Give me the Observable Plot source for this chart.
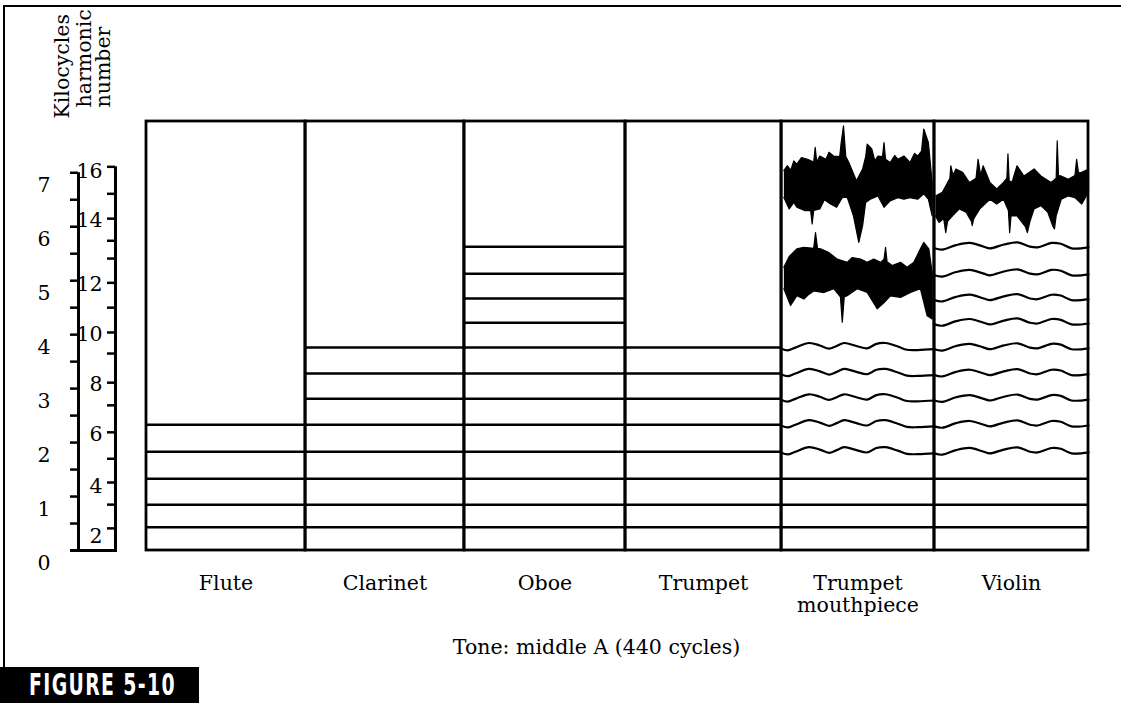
<!DOCTYPE html>
<html><head><meta charset="utf-8">
<script src="https://cdn.jsdelivr.net/npm/d3@7"></script>
<script src="https://cdn.jsdelivr.net/npm/@observablehq/plot@0.6"></script>
<style>
html,body{margin:0;padding:0;background:#fff;}
#fig{position:relative;width:1121px;height:703px;overflow:hidden;background:#fff;}
#frame{position:absolute;left:3px;top:5px;width:1130px;height:660px;border-top:2px solid #000;border-left:2px solid #000;}
#chart{position:absolute;left:0;top:0;}
#badge{position:absolute;left:0;top:667px;}
</style></head><body>
<div id="fig">
  <div id="frame"></div>
  <div id="chart"></div>
  <svg id="badge" width="199" height="36"><rect width="199" height="36" fill="#000"/>
    <text id="badgeText" x="0" y="0" fill="#fff" font-family="DejaVu Sans Condensed, DejaVu Sans" font-weight="bold" font-size="31" letter-spacing="2">FIGURE 5-10</text>
  </svg>
</div>
<script>
// ---------- data (kilocycles on the vertical axis) ----------
const instruments = ["Flute", "Clarinet", "Oboe", "Trumpet", "Trumpet\nmouthpiece", "Violin"];
const panelEdges = [0, 1.013, 2.025, 3.051, 4.045, 5.019, 6];
const panelTopKc = 7.95;

const kcTicks = [0, 0.5, 1, 1.5, 2, 2.5, 3, 3.5, 4, 4.5, 5, 5.5, 6, 6.5, 7];
const kcLabels = [0, 1, 2, 3, 4, 5, 6, 7];
const harmonicTickKc = [0.41, 0.85, 1.26, 1.70, 2.19, 2.69, 3.11, 3.65, 4.04, 4.50, 4.96, 5.41, 5.74, 6.15, 6.61, 7.11];
const harmonicLabelNums = [2, 4, 6, 8, 10, 12, 14, 16];
const harmonicLabelKc = [0.30, 1.22, 2.19, 3.11, 4.04, 4.96, 6.15, 7.07];

const fluteLines = [0.43, 0.85, 1.33, 1.83, 2.33];
const clarinetLines = [0.43, 0.85, 1.33, 1.83, 2.33, 2.81, 3.28, 3.76];
const oboeLines = [0.43, 0.85, 1.33, 1.83, 2.33, 2.81, 3.28, 3.76, 4.22, 4.67, 5.13, 5.63];
const trumpetLines = [0.43, 0.85, 1.33, 1.83, 2.33, 2.81, 3.28, 3.76];
const mouthpieceStraight = [0.43, 0.85, 1.33];
const mouthpieceWavy = [1.83, 2.33, 2.81, 3.28, 3.76];
const violinStraight = [0.43, 0.85, 1.33];
const violinWavy = [1.83, 2.33, 2.81, 3.28, 3.76, 4.22, 4.67, 5.13, 5.63];

// wave shape: fraction across panel, deviation in kc
const mouthWaveF = [0, 0.04, 0.09, 0.18, 0.25, 0.31, 0.36, 0.41, 0.49, 0.56, 0.62, 0.68, 0.76, 0.82, 0.89, 1.0];
const mouthWaveKc = [-0.02, -0.05, 0, 0.085, 0.04, -0.02, 0.03, 0.085, 0.03, -0.013, 0.07, 0.085, 0.02, -0.04, -0.045, -0.03];
const violinWaveF = [0, 0.05, 0.14, 0.23, 0.32, 0.36, 0.45, 0.54, 0.62, 0.67, 0.76, 0.82, 0.89, 1.0];
const violinWaveKc = [-0.03, -0.055, 0.03, 0.07, 0, -0.03, 0.04, 0.08, 0, -0.013, 0.07, 0.055, -0.03, -0.013];

// noisy bands: [fraction across panel, kc]
const mouthUpperTop = [[0.015,7.04],[0.037,7.13],[0.06,7.05],[0.08,7.22],[0.10,7.16],[0.13,7.28],[0.17,7.25],[0.21,7.2],[0.22,7.47],[0.23,7.2],[0.25,7.31],[0.29,7.25],[0.31,7.38],[0.34,7.31],[0.38,7.3],[0.39,7.56],[0.405,7.87],[0.42,7.3],[0.44,7.19],[0.49,6.85],[0.53,7.07],[0.55,7.3],[0.56,7.53],[0.59,7.44],[0.61,7.22],[0.63,7.31],[0.66,7.3],[0.67,7.56],[0.68,7.25],[0.71,7.19],[0.74,7.32],[0.76,7.25],[0.80,7.31],[0.84,7.19],[0.87,7.36],[0.89,7.31],[0.915,7.4],[0.93,7.81],[0.96,7.56],[0.985,6.82]];
const mouthUpperBottom = [[0.015,6.54],[0.05,6.33],[0.08,6.45],[0.10,6.36],[0.15,6.30],[0.19,6.3],[0.20,6.05],[0.21,6.3],[0.25,6.33],[0.28,6.5],[0.32,6.42],[0.36,6.36],[0.40,6.55],[0.43,6.54],[0.47,6.20],[0.505,5.71],[0.53,6.02],[0.55,6.45],[0.58,6.51],[0.63,6.57],[0.67,6.36],[0.71,6.48],[0.76,6.54],[0.80,6.51],[0.84,6.54],[0.89,6.51],[0.93,6.61],[0.96,6.51],[0.985,6.20]];
const mouthLowerTop = [[0.015,5.25],[0.05,5.45],[0.10,5.59],[0.146,5.62],[0.21,5.6],[0.222,5.89],[0.235,5.6],[0.255,5.59],[0.31,5.52],[0.364,5.40],[0.429,5.34],[0.462,5.43],[0.516,5.40],[0.56,5.34],[0.603,5.40],[0.647,5.34],[0.67,5.4],[0.68,5.62],[0.69,5.35],[0.723,5.28],[0.778,5.34],[0.821,5.25],[0.865,5.34],[0.908,5.59],[0.93,5.71],[0.963,5.59],[0.985,5.15]];
const mouthLowerBottom = [[0.015,4.85],[0.059,4.54],[0.10,4.72],[0.146,4.66],[0.18,4.75],[0.21,4.81],[0.277,4.78],[0.342,4.85],[0.385,4.7],[0.397,4.23],[0.41,4.7],[0.429,4.72],[0.495,4.85],[0.56,4.78],[0.625,4.48],[0.669,4.59],[0.712,4.72],[0.778,4.69],[0.843,4.78],[0.908,4.85],[0.952,4.35],[0.985,4.29]];
const violinNoiseTop = [[0.007,6.57],[0.051,6.64],[0.10,6.9],[0.106,7.13],[0.12,6.95],[0.139,7.07],[0.183,7.01],[0.227,6.82],[0.27,6.9],[0.283,7.25],[0.30,6.95],[0.316,7.13],[0.36,6.82],[0.404,6.70],[0.448,6.82],[0.47,6.9],[0.477,7.35],[0.485,6.85],[0.503,6.82],[0.536,7.13],[0.581,6.94],[0.647,7.07],[0.691,6.94],[0.757,6.82],[0.79,6.9],[0.797,7.59],[0.805,6.95],[0.823,6.94],[0.868,6.88],[0.912,6.95],[0.923,7.25],[0.935,7.0],[0.956,7.01],[1.0,7.07]];
const violinNoiseBottom = [[0.007,6.20],[0.029,6.08],[0.06,6.15],[0.073,5.89],[0.085,6.1],[0.117,6.20],[0.161,6.33],[0.205,6.27],[0.24,6.1],[0.245,6.02],[0.255,6.15],[0.294,6.33],[0.36,6.51],[0.404,6.42],[0.448,6.51],[0.48,6.3],[0.488,5.89],[0.497,6.2],[0.536,6.20],[0.59,6.0],[0.603,5.89],[0.62,6.1],[0.647,6.33],[0.691,6.39],[0.735,6.27],[0.77,6.0],[0.779,5.96],[0.79,6.2],[0.823,6.51],[0.868,6.57],[0.912,6.54],[0.956,6.42],[1.0,6.64]];

const caption = "Tone: middle A (440 cycles)";

// ---------- derived tables ----------
const xOf = (i, f) => panelEdges[i] + f * (panelEdges[i + 1] - panelEdges[i]);
const panels = instruments.map((name, i) => ({name, x1: panelEdges[i], x2: panelEdges[i + 1], xc: (panelEdges[i] + panelEdges[i + 1]) / 2}));

const straightSegs = [];
[[0, fluteLines], [1, clarinetLines], [2, oboeLines], [3, trumpetLines], [4, mouthpieceStraight], [5, violinStraight]]
  .forEach(([i, arr]) => arr.forEach(kc => straightSegs.push({x1: panelEdges[i], x2: panelEdges[i + 1], kc})));

const wavyPts = [];
function addWaves(i, baselines, fs, offs, tag) {
  baselines.forEach((b, j) => fs.forEach((f, k) => wavyPts.push({x: xOf(i, f), y: b + offs[k], id: tag + j})));
}
addWaves(4, mouthpieceWavy, mouthWaveF, mouthWaveKc, "m");
addWaves(5, violinWavy, violinWaveF, violinWaveKc, "v");

function band(i, top, bottom, id) {
  return [...top.map(([f, kc]) => ({x: xOf(i, f), y: kc, id})),
          ...bottom.slice().reverse().map(([f, kc]) => ({x: xOf(i, f), y: kc, id}))];
}
const noisePts = [
  ...band(4, mouthUpperTop, mouthUpperBottom, "mu"),
  ...band(4, mouthLowerTop, mouthLowerBottom, "ml"),
  ...band(5, violinNoiseTop, violinNoiseBottom, "vn")
];

const chart = Plot.plot({
  width: 1121,
  height: 703,
  marginLeft: 146,
  marginRight: 33,
  marginTop: 121,
  marginBottom: 153,
  style: {fontFamily: "'DejaVu Serif', serif", fontSize: "20.5px", background: "none", color: "#000", overflow: "visible"},
  x: {domain: [0, 6], axis: null},
  y: {domain: [0, panelTopKc], label: null},
  marks: [
    Plot.line(noisePts, {x: "x", y: "y", z: "id", fill: "#000", stroke: "#000", strokeWidth: 1.2, curve: "linear"}),
    Plot.line(wavyPts, {x: "x", y: "y", z: "id", stroke: "#000", strokeWidth: 2.2, curve: "catmull-rom"}),
    Plot.ruleY(straightSegs, {y: "kc", x1: "x1", x2: "x2", stroke: "#000", strokeWidth: 2.5}),
    Plot.rect(panels, {x1: "x1", x2: "x2", y1: 0, y2: panelTopKc, fill: "none", stroke: "#000", strokeWidth: 2.8}),
    Plot.axisY({ticks: kcTicks, anchor: "left", tickSize: 8, tickFormat: () => "", dx: -68, strokeWidth: 2.5, label: null}),
    Plot.ruleX([0], {y1: 0, y2: 7, dx: -68, stroke: "#000", strokeWidth: 3}),
    Plot.text(kcLabels, {y: d => d, text: d => String(d), frameAnchor: "left", dx: -96, dy: 13, textAnchor: "end"}),
    Plot.axisY({ticks: harmonicTickKc, anchor: "left", tickSize: 8, tickFormat: () => "", dx: -31, strokeWidth: 2.5, label: null}),
    Plot.ruleX([0], {y1: 0, y2: harmonicTickKc[harmonicTickKc.length - 1], dx: -31, stroke: "#000", strokeWidth: 3}),
    Plot.text(harmonicLabelNums, {y: (d, i) => harmonicLabelKc[i], text: d => String(d), frameAnchor: "left", dx: -44, dy: 2, textAnchor: "end"}),
    Plot.axisY({ticks: [0], anchor: "left", tickSize: 47, tickFormat: () => "", dx: -29, strokeWidth: 3, label: null}),
    Plot.text(["Kilocycles"], {frameAnchor: "top-left", dx: -84, dy: -3, rotate: -90, textAnchor: "start", lineAnchor: "middle"}),
    Plot.text(["harmonic\nnumber"], {frameAnchor: "top-left", dx: -52, dy: -14, rotate: -90, textAnchor: "start", lineAnchor: "middle", lineHeight: 0.95}),
    Plot.text(panels, {x: "xc", text: "name", frameAnchor: "bottom", dy: 23, lineAnchor: "top", lineHeight: 1.1}),
    Plot.text([caption], {frameAnchor: "bottom", dx: -21, dy: 97, lineAnchor: "middle"})
  ]
});
document.getElementById("chart").appendChild(chart);

// fit the badge text into its black box
const bt = document.getElementById("badgeText");
const bw = bt.getComputedTextLength();
const sx = 147 / bw;
bt.setAttribute("transform", `translate(29,28) scale(${sx},1)`);
</script>
</body></html>
